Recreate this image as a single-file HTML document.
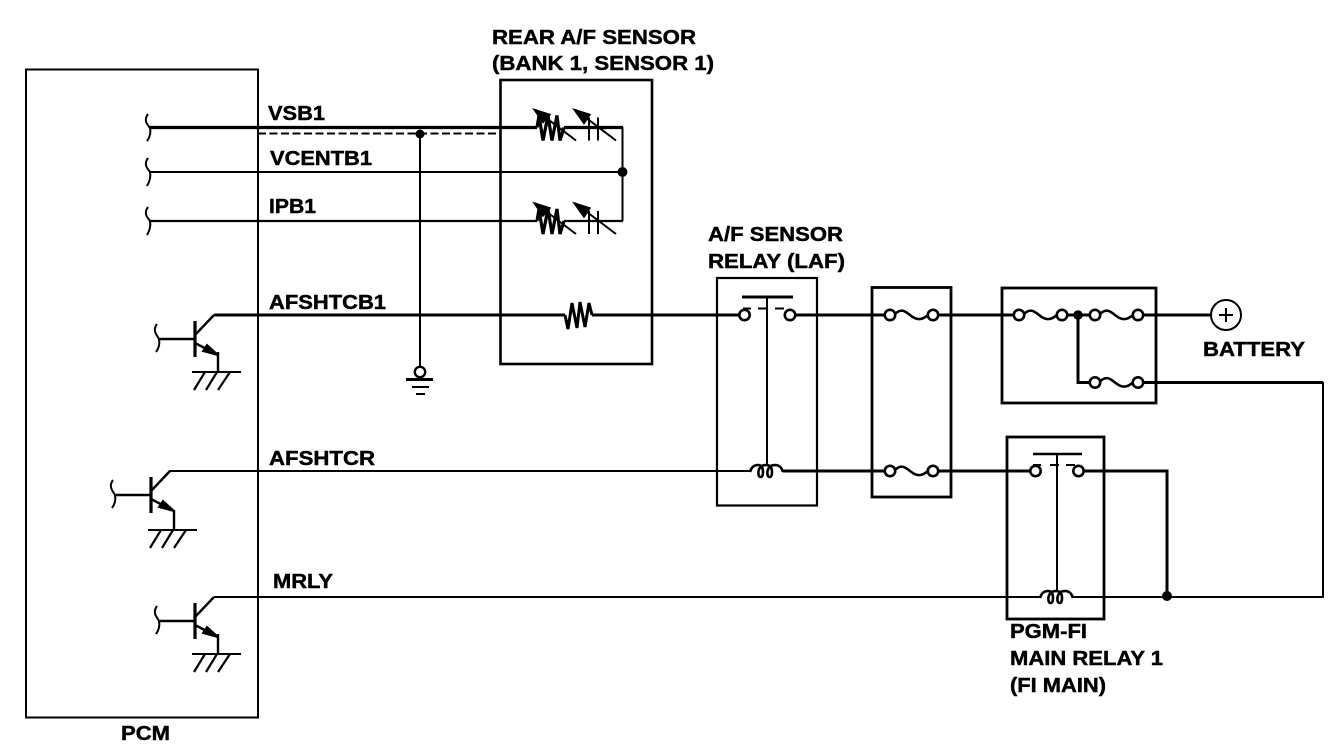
<!DOCTYPE html>
<html><head><meta charset="utf-8"><style>
html,body{margin:0;padding:0;background:#fff;width:1344px;height:754px;overflow:hidden}
svg{display:block}
text{font-family:"Liberation Sans",sans-serif;font-weight:bold;font-size:20px;fill:#000;stroke:#000;stroke-width:.45px}
</style></head><body>
<svg width="1344" height="754" viewBox="0 0 1344 754" xmlns="http://www.w3.org/2000/svg">
<defs>
<g id="fuse" fill="none" stroke="#000" stroke-width="2.6">
<path d="M5,-1 C11,-7 15,-4 20,0 C26,5 31,6 38,0"/>
<circle cx="0" cy="0" r="5.2" fill="#fff"/><circle cx="43" cy="0" r="5.2" fill="#fff"/>
</g>
<g id="coil" fill="none" stroke="#000" stroke-width="2.6">
<path d="M0,1 Q2,-6 8,-6 Q13,-6 13,1 Q13,6 10.5,6 Q8,6 8.5,0 Q10,-6 16,-6 Q22,-6 22,1 Q22,6 19.500,6 Q17,6 17.500,0 Q19,-6 25,-6 Q31,-6 33,1"/>
</g>
<g id="trans" fill="none" stroke="#000">
<path d="M195,321V357" stroke-width="3.2"/>
<path d="M160,339H195" stroke-width="2.4"/>
<path d="M157,324C152,331 157,335 159,339C160,344 159,348 156,352" stroke-width="2"/>
<path d="M195,335L214,315" stroke-width="2.4"/>
<path d="M195,343L218,355" stroke-width="2.4"/>
<path d="M207,345L218,355L203,351Z" fill="#000" stroke-width="2"/>
</g>
<g id="gnd" fill="none" stroke="#000">
<path d="M218,352V372" stroke-width="2.4"/>
<path d="M192,372H241" stroke-width="2"/>
<path d="M205,372L194,390M217,372L206,390M230,372L218,390" stroke-width="2.2"/>
</g>
<g id="res" fill="none" stroke="#000">
<path d="M0,0L2,-12L6,13L11,-12L15,13L20,-12L23,13L27,0" stroke-width="3.2"/>
<path d="M-2,-18L39,13" stroke-width="2"/>
<path d="M-3,-18L13,-13L6,-5Z" fill="#000" stroke-width="1.500"/>
<path d="M52,-10V13M61,-10V13" stroke-width="2"/>
<path d="M38,-18L79,13" stroke-width="2"/>
<path d="M37,-18L53,-13L47,-4Z" fill="#000" stroke-width="1.500"/>
</g>
</defs>

<g fill="none" stroke="#000">
<rect x="26" y="69.500" width="232" height="648" stroke-width="2"/>
<rect x="500.500" y="80" width="151.500" height="284" stroke-width="2.600"/>
<rect x="717" y="278" width="100" height="227.500" stroke-width="2.200"/>
<rect x="872" y="287.500" width="79" height="209.500" stroke-width="2.800"/>
<rect x="1002" y="288" width="154" height="115" stroke-width="2.800"/>
<rect x="1007" y="437" width="97" height="182" stroke-width="2.800"/>

<path d="M150,127.500H537M564,127.500H623" stroke-width="3.200"/>
<path d="M150,172H622" stroke-width="2"/>
<path d="M150,221H537M564,221H623" stroke-width="2.200"/>
<path d="M622.500,127V221" stroke-width="2"/>
<path d="M258,133.500H500" stroke-width="2" stroke-dasharray="8,3.500"/>
<path d="M420,134V367" stroke-width="2"/>
<path d="M406,379.500H433" stroke-width="3"/><path d="M412,387H429" stroke-width="2"/><path d="M416,394H425" stroke-width="2"/>
<circle cx="420" cy="372" r="5.200" fill="#fff" stroke-width="2.400"/>

<path d="M148,114C143,121 148,125 150,128C151,133 150,137 147,141" stroke-width="2"/>
<path d="M148,158C143,165 148,169 150,172C151,177 150,181 147,186" stroke-width="2"/>
<path d="M148,207C143,214 148,218 150,221C151,226 150,230 147,235" stroke-width="2"/>

<path d="M214,315H565M592,315H740M795,315H886M938,315H1014M1067,315H1090M1143,315H1211" stroke-width="3"/>
<path d="M169,471H750" stroke-width="2"/>
<path d="M783,471H886M938,471H1030M1084,471H1167V597" stroke-width="3"/>
<path d="M214,597H1040M1073,597H1323V382" stroke-width="2"/>
<path d="M1078,315V382.500H1090M1143,382.500H1323" stroke-width="3"/>

<path d="M565,315L568,329L572,303L577,328L580,302L585,327L589,303L592,315" stroke-width="3"/>

<!-- relay 1 -->
<path d="M742,297H793" stroke-width="3"/>
<path d="M767,297V464" stroke-width="2"/>
<path d="M743,308.500H751M758,308.500H767M775,308.500H784" stroke-width="2"/>
<circle cx="744.500" cy="315" r="5.200" fill="#fff" stroke-width="2.600"/>
<circle cx="790" cy="315" r="5.200" fill="#fff" stroke-width="2.600"/>
<!-- relay 2 -->
<path d="M1033,454H1082" stroke-width="2.400"/>
<path d="M1057,454V590" stroke-width="2"/>
<path d="M1033,465H1041M1050,465H1059M1066,465H1075" stroke-width="2"/>
<circle cx="1035.500" cy="471" r="5.200" fill="#fff" stroke-width="2.600"/>
<circle cx="1078.500" cy="471" r="5.200" fill="#fff" stroke-width="2.600"/>

<circle cx="1226" cy="315" r="15" fill="#fff" stroke-width="2"/>
<path d="M1219,315H1233M1226,308V322" stroke-width="2"/>
</g>

<use href="#res" x="537" y="127.500"/>
<use href="#res" x="537" y="221"/>
<use href="#trans"/><use href="#gnd"/>
<use href="#trans" x="-44" y="156"/><use href="#gnd" x="-44" y="158"/>
<use href="#trans" y="282"/><use href="#gnd" y="282"/>
<use href="#coil" x="750" y="471"/>
<use href="#coil" x="1040" y="597"/>
<use href="#fuse" x="890" y="315"/>
<use href="#fuse" x="890" y="471"/>
<use href="#fuse" x="1019" y="315"/>
<use href="#fuse" x="1095" y="315"/>
<use href="#fuse" x="1095" y="382.500"/>

<circle cx="420" cy="134" r="4.500"/>
<circle cx="622.500" cy="172" r="5"/>
<circle cx="1078" cy="315" r="4.800"/>
<circle cx="1167" cy="596" r="5"/>

<g>
<text x="492" y="44" textLength="204" lengthAdjust="spacingAndGlyphs">REAR A/F SENSOR</text>
<text x="492" y="70" textLength="222" lengthAdjust="spacingAndGlyphs">(BANK 1, SENSOR 1)</text>
<text x="268" y="120" textLength="57" lengthAdjust="spacingAndGlyphs">VSB1</text>
<text x="270" y="165" textLength="102" lengthAdjust="spacingAndGlyphs">VCENTB1</text>
<text x="269" y="213" textLength="47" lengthAdjust="spacingAndGlyphs">IPB1</text>
<text x="269" y="309" textLength="117" lengthAdjust="spacingAndGlyphs">AFSHTCB1</text>
<text x="269" y="465" textLength="106" lengthAdjust="spacingAndGlyphs">AFSHTCR</text>
<text x="273" y="588" textLength="60" lengthAdjust="spacingAndGlyphs">MRLY</text>
<text x="708" y="241" textLength="135" lengthAdjust="spacingAndGlyphs">A/F SENSOR</text>
<text x="708" y="268" textLength="137" lengthAdjust="spacingAndGlyphs">RELAY (LAF)</text>
<text x="1203" y="356" textLength="102" lengthAdjust="spacingAndGlyphs">BATTERY</text>
<text x="1010" y="638" textLength="77" lengthAdjust="spacingAndGlyphs">PGM-FI</text>
<text x="1010" y="665" textLength="153" lengthAdjust="spacingAndGlyphs">MAIN RELAY 1</text>
<text x="1010" y="692" textLength="96" lengthAdjust="spacingAndGlyphs">(FI MAIN)</text>
<text x="121" y="740" textLength="49" lengthAdjust="spacingAndGlyphs">PCM</text>
</g>
</svg>
</body></html>
